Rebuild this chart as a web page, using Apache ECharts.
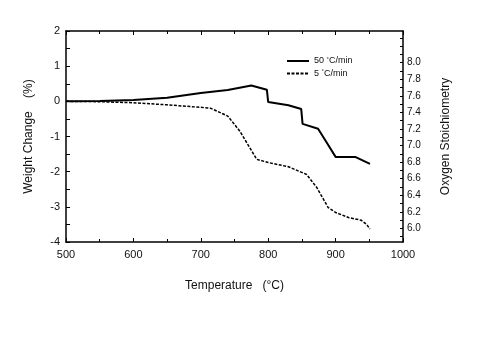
<!DOCTYPE html>
<html>
<head>
<meta charset="utf-8">
<script src="https://cdn.jsdelivr.net/npm/echarts@6/dist/echarts.min.js"></script>
<style>html,body{margin:0;padding:0;background:#fff;}#c{width:501px;height:339px;}</style>
</head>
<body>
<div id="c"></div>
<script>
// Data (temperature in °C, weight change in %)
const fastTemps = [500, 550, 600, 650, 700, 740, 775, 798, 800, 830, 849, 851, 874, 887, 900, 929, 951];
const fastWeight = [0, 0.01, 0.04, 0.1, 0.24, 0.32, 0.45, 0.33, -0.02, -0.11, -0.22, -0.64, -0.78, -1.18, -1.58, -1.58, -1.78];
const slowTemps = [500, 550, 600, 650, 700, 715, 740, 758, 783, 800, 830, 857, 872, 889, 900, 920, 938, 946, 951];
const slowWeight = [0, -0.01, -0.04, -0.1, -0.17, -0.2, -0.42, -0.85, -1.65, -1.74, -1.86, -2.08, -2.45, -3.02, -3.16, -3.31, -3.38, -3.5, -3.63];
const seriesNames = ['50 °C/min', '5 °C/min'];
const stoichLabels = [6.0, 6.2, 6.4, 6.6, 6.8, 7.0, 7.2, 7.4, 7.6, 7.8, 8.0];
const stoichTicks = [5.9, 6.0, 6.1, 6.2, 6.3, 6.4, 6.5, 6.6, 6.7, 6.8, 6.9, 7.0, 7.1, 7.2, 7.3, 7.4, 7.5, 7.6, 7.7, 7.8, 7.9, 8.0, 8.1, 8.2, 8.3];

const FONT = '"Liberation Sans", Arial, sans-serif';
const chart = echarts.init(document.getElementById('c'), null, {renderer: 'canvas'});
const axisLine = {show: true, onZero: false, lineStyle: {color: '#000', width: 1.5}};
chart.setOption({
  animation: false,
  backgroundColor: '#fff',
  textStyle: {fontFamily: FONT},
  grid: {left: 66, right: 98, top: 31, bottom: 97, show: false},
  legend: {
    orient: 'vertical', left: 281, top: 51, itemWidth: 22, itemHeight: 10, itemGap: 3,
    itemStyle: {color: 'transparent', borderWidth: 0, opacity: 0},
    textStyle: {fontFamily: FONT, fontSize: 9, color: '#111',
      rich: {n: {fontFamily: FONT, fontSize: 9, color: '#111'}, s: {fontFamily: FONT, fontSize: 6, color: '#111', verticalAlign: 'top', padding: [0,0,4,0]}}},
    formatter: function (name) {
      const i = name.indexOf('°');
      return '{n|' + name.slice(0, i) + '}{s|°}{n|' + name.slice(i + 1) + '}';
    },
    data: seriesNames
  },
  xAxis: [{
    type: 'value', min: 500, max: 1000, interval: 100,
    name: 'Temperature   (°C)', nameLocation: 'middle', nameGap: 38,
    nameTextStyle: {fontFamily: FONT, fontSize: 12, color: '#111'},
    axisLine: axisLine,
    axisTick: {show: true, inside: true, length: 4, lineStyle: {color: '#000'}},
    minorTick: {show: true, splitNumber: 2, length: 3, lineStyle: {color: '#000'}},
    axisLabel: {fontFamily: FONT, fontSize: 11, color: '#111', margin: 7, formatter: function (v) { return String(v); }},
    splitLine: {show: false}
  }, {
    type: 'value', position: 'top', min: 500, max: 1000, interval: 100,
    axisLine: axisLine,
    axisTick: {show: true, inside: true, length: 4, lineStyle: {color: '#000'}},
    minorTick: {show: true, splitNumber: 2, length: 3, lineStyle: {color: '#000'}},
    axisLabel: {show: false},
    splitLine: {show: false}
  }],
  yAxis: [{
    type: 'value', min: -4, max: 2, interval: 1,
    name: 'Weight Change    (%)', nameLocation: 'middle', nameGap: 31, nameRotate: 90,
    nameTextStyle: {fontFamily: FONT, fontSize: 12, color: '#111'},
    axisLine: axisLine,
    axisTick: {show: true, inside: true, length: 4, lineStyle: {color: '#000'}},
    minorTick: {show: true, splitNumber: 2, length: 4, lineStyle: {color: '#000'}},
    axisLabel: {fontFamily: FONT, fontSize: 11, color: '#111', margin: 6},
    splitLine: {show: false}
  }, {
    type: 'value', position: 'right', min: 5.835, max: 8.383,
    name: 'Oxygen Stoichiometry', nameLocation: 'middle', nameGap: 37, nameRotate: 90,
    nameTextStyle: {fontFamily: FONT, fontSize: 12, color: '#111'},
    axisLine: axisLine,
    axisTick: {show: true, inside: true, length: 3, customValues: stoichTicks, lineStyle: {color: '#000'}},
    axisLabel: {fontFamily: FONT, fontSize: 10, color: '#111', margin: 4, customValues: stoichLabels,
      formatter: function (v) { return v.toFixed(1); }},
    splitLine: {show: false}
  }],
  series: [{
    name: seriesNames[0], type: 'line', xAxisIndex: 0, yAxisIndex: 0,
    data: fastTemps.map((t, i) => [t, fastWeight[i]]),
    symbol: 'none', lineStyle: {color: '#000', width: 2}, itemStyle: {color: '#000'}
  }, {
    name: seriesNames[1], type: 'line', xAxisIndex: 0, yAxisIndex: 0,
    data: slowTemps.map((t, i) => [t, slowWeight[i]]),
    symbol: 'none', lineStyle: {color: '#000', width: 1.5, type: [3, 1.5]}, itemStyle: {color: '#000'}
  }]
});
</script>
</body>
</html>
